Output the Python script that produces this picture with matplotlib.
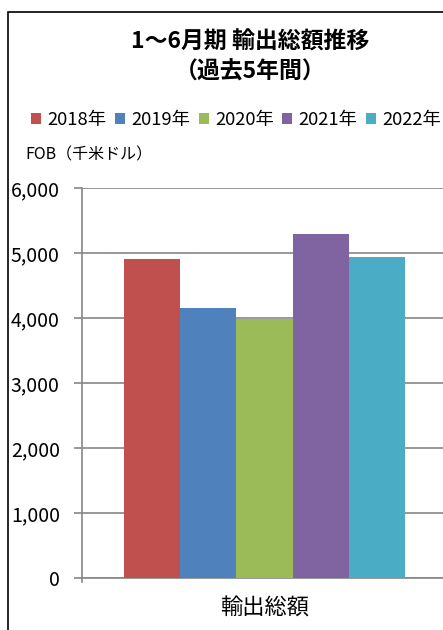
import numpy as np
import matplotlib.pyplot as plt
from matplotlib.patches import Rectangle
from matplotlib.ticker import FuncFormatter

plt.rcParams['font.family'] = ['Noto Sans CJK JP', 'DejaVu Sans']

# データ
years = ['2018年', '2019年', '2020年', '2021年', '2022年']
values = [4905, 4150, 3990, 5290, 4940]
colors = ['#C0504D', '#4F81BD', '#9BBB59', '#8064A2', '#4BACC6']
category = '輸出総額'

W, H = 443, 630
fig = plt.figure(figsize=(W / 100, H / 100), dpi=100)

# 枠線（左・上）
fig.patches.append(Rectangle((8 / W, -0.1), 1.2, 1 - 12 / H + 0.1, transform=fig.transFigure,
                             fill=False, edgecolor='black', linewidth=1.2))

ax = fig.add_axes([82 / W, 1 - 578 / H, (447 - 82) / W, (578 - 188) / H])

x = np.arange(len(years)) - 2
for i, (lab, v, c) in enumerate(zip(years, values, colors)):
    ax.bar(x[i], v, width=1.0, color=c, label=lab, zorder=3)

ax.set_xlim(-3.25, 3.25)
ax.set_ylim(0, 6000)
ax.set_yticks(range(0, 6001, 1000))
ax.yaxis.set_major_formatter(FuncFormatter(lambda v, p: f'{int(v):,}'))
ax.grid(axis='y', color='#868686', linewidth=1.2, zorder=0)
ax.tick_params(axis='y', length=6, width=1.2, color='#868686', labelsize=14, pad=10)
ax.set_xticks([])
for s in ['top', 'right']:
    ax.spines[s].set_visible(False)
for s in ['left', 'bottom']:
    ax.spines[s].set_color('#868686')
    ax.spines[s].set_linewidth(1.2)
ax.plot([-3.25, -3.25], [0, -60], color='#868686', lw=1.2, clip_on=False)

ax.text(0, -460, category, ha='center', va='center', fontsize=16)

fig.text(250 / W, 1 - 42 / H, '1～6月期 輸出総額推移', ha='center', va='center',
         fontsize=16.5, fontweight='bold')
fig.text(250 / W, 1 - 72 / H, '（過去5年間）', ha='center', va='center',
         fontsize=16.5, fontweight='bold')
fig.text(25 / W, 1 - 155 / H, 'FOB（千米ドル）', ha='left', va='center', fontsize=11.5)

fig.legend(loc='center left', bbox_to_anchor=(31 / W, 1 - 120 / H), ncol=5, frameon=False,
           fontsize=13.2, handlelength=0.55, handleheight=0.55, handletextpad=0.35,
           columnspacing=0.45, borderaxespad=0, borderpad=0)

fig.savefig('out.png', dpi=100)
